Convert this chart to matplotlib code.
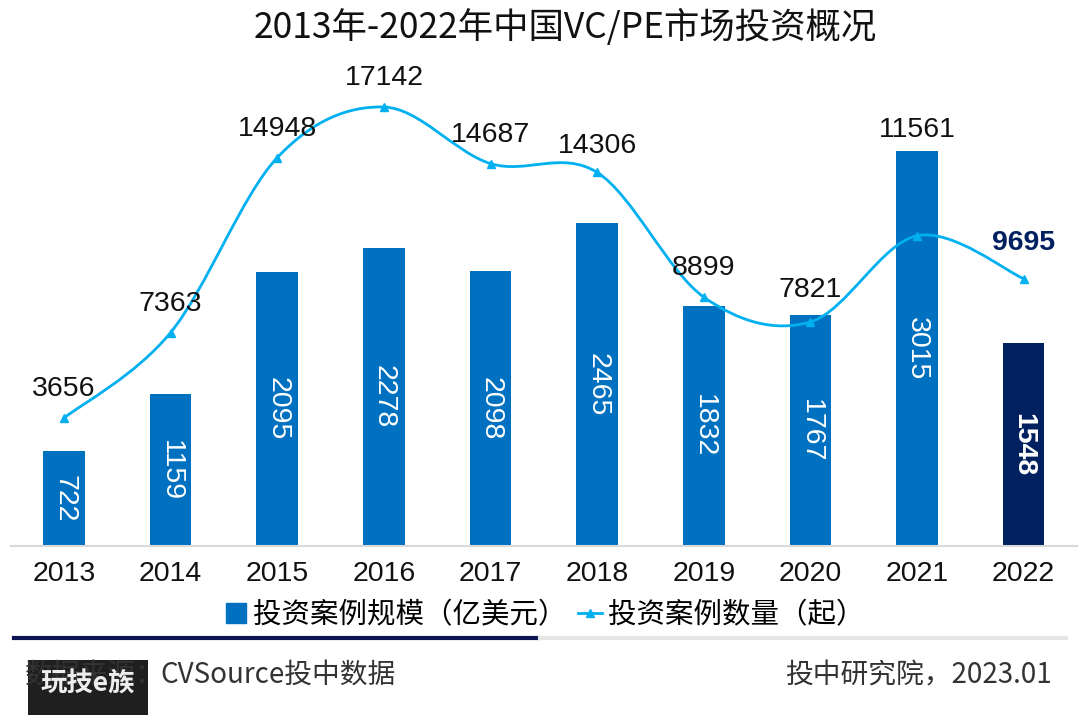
import numpy as np
import matplotlib
matplotlib.use('Agg')
import matplotlib.pyplot as plt
from matplotlib.path import Path
from matplotlib.patches import PathPatch, Rectangle
from matplotlib.lines import Line2D

plt.rcParams['font.family'] = ['Liberation Sans', 'Noto Sans CJK SC', 'DejaVu Sans']

years = ['2013', '2014', '2015', '2016', '2017', '2018', '2019', '2020', '2021', '2022']
amount = [722, 1159, 2095, 2278, 2098, 2465, 1832, 1767, 3015, 1548]
cases = [3656, 7363, 14948, 17142, 14687, 14306, 8899, 7821, 11561, 9695]
label_offsets_px = [29, 29, 29, 29, 29, 26, 29, 32, 106, 36]

title = '2013年-2022年中国VC/PE市场投资概况'
legend_labels = ['投资案例规模（亿美元）', '投资案例数量（起）']

W, H = 1080, 725
fig = plt.figure(figsize=(10.8, 7.25), dpi=100)
fx = lambda px: px / W
fy = lambda py: 1 - py / H

ax_left, ax_right, ax_top, ax_bot = 10.7, 1077, 60, 546
hpx = ax_bot - ax_top
ax = fig.add_axes([fx(ax_left), fy(ax_bot), (ax_right - ax_left) / W, hpx / H])
x = np.arange(len(years))
ax.set_xlim(-0.5, len(years) - 0.5)
ax.set_ylim(0, hpx / 0.131)

blue = '#0070C0'
navy = '#002060'
cyan = '#00B0F0'
colors = [blue] * (len(years) - 1) + [navy]
ax.bar(x, amount, width=0.39, color=colors, zorder=2)
for i, v in enumerate(amount):
    last = i == len(amount) - 1
    ax.text(i, v / 2, str(v), rotation=-90, ha='center', va='center',
            rotation_mode='anchor', color='white', fontsize=20.5,
            fontweight='bold' if last else 'normal', zorder=3)

for s in ['top', 'left', 'right']:
    ax.spines[s].set_visible(False)
ax.spines['bottom'].set_color('#D9D9D9')
ax.spines['bottom'].set_linewidth(1.5)
ax.set_yticks([])
ax.set_xticks(x)
ax.set_xticklabels(years, fontsize=20.5, color='#111111')
ax.tick_params(axis='x', length=0, pad=11)

ax2 = ax.twinx()
lo = -(ax_bot - 502.3) / 0.02306
ax2.set_ylim(lo, lo + hpx / 0.02306)
ax2.set_yticks([])
for s in ['top', 'left', 'right', 'bottom']:
    ax2.spines[s].set_visible(False)

pts = np.column_stack([x, cases]).astype(float)
ext = np.vstack([pts[0], pts, pts[-1]])
verts = [pts[0]]
codes = [Path.MOVETO]
for i in range(len(pts) - 1):
    p0, p1, p2, p3 = ext[i], ext[i + 1], ext[i + 2], ext[i + 3]
    verts += [p1 + (p2 - p0) / 6, p2 - (p3 - p1) / 6, p2]
    codes += [Path.CURVE4] * 3
ax2.add_patch(PathPatch(Path(verts, codes), facecolor='none', edgecolor=cyan, lw=2, zorder=4))
ax2.plot(x, cases, ls='none', marker='^', ms=6, color=cyan, zorder=5)

for i, v in enumerate(cases):
    last = i == len(cases) - 1
    ax2.annotate(str(v), (i, v), xytext=(0, label_offsets_px[i] * 0.72),
                 textcoords='offset points', ha='center', va='center',
                 fontsize=20.5, color=navy if last else '#111111',
                 fontweight='bold' if last else 'normal', zorder=6)

cjk = ['Noto Sans CJK SC', 'DejaVu Sans']
fig.text(fx(565), fy(27), title, ha='center', va='center', fontsize=25.5,
         family=cjk, color='#111111')

handles = [Line2D([], [], marker='s', ls='none', color=blue, ms=14),
           Line2D([], [], marker='^', ms=6, color=cyan, lw=2)]
fig.legend(handles, legend_labels, loc='center', bbox_to_anchor=(fx(544), fy(615)),
           ncol=2, frameon=False, handlelength=0.85, handletextpad=0.2, columnspacing=0.4,
           prop={'family': cjk, 'size': 20.5})

fig.add_artist(Line2D([fx(14), fx(538)], [fy(638)] * 2, color='#0B1450', lw=3))
fig.add_artist(Line2D([fx(540), fx(1066)], [fy(638)] * 2, color='#E6E6E6', lw=3))

fig.text(fx(25), fy(675), '数据来源：', ha='left', va='center', fontsize=20, family=cjk, color='#333333')
fig.text(fx(160), fy(675), 'CVSource投中数据', ha='left', va='center', fontsize=20, family=cjk, color='#333333')
fig.text(fx(1052), fy(675), '投中研究院，2023.01', ha='right', va='center', fontsize=20, family=cjk, color='#333333')

fig.add_artist(Rectangle((fx(28), fy(715)), fx(120), 55 / H, transform=fig.transFigure,
                         facecolor='black', alpha=0.88, edgecolor='none'))
fig.text(fx(88), fy(684), '玩技e族', ha='center', va='center', fontsize=19, fontweight='bold',
         family=cjk, color='#EEEEEE')

fig.savefig('out.png', dpi=100)
